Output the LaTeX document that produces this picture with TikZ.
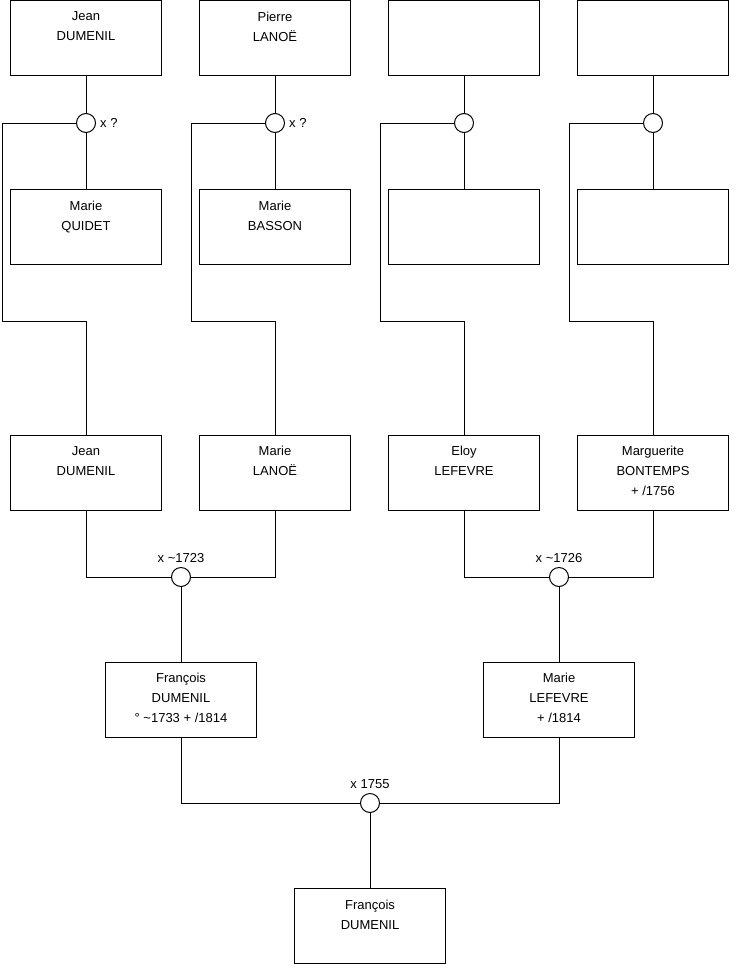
\documentclass[tikz,border=0pt]{standalone}
\usepackage{fontspec}
\setmainfont{Liberation Sans}
\usetikzlibrary{positioning}
\tikzset{
  pbox/.style={draw, line width=1pt, minimum width=151pt, minimum height=75pt, inner sep=0pt},
  who/.style={align=center, font=\fontsize{13}{20}\selectfont, inner sep=0pt},
  ring/.style={draw, line width=1pt, circle, minimum size=19pt, inner sep=0pt, fill=white},
  wed/.style={font=\fontsize{13}{15}\selectfont, inner sep=0pt},
  link/.style={line width=1pt},
}
\begin{document}
\begin{tikzpicture}[x=1pt, y=-1pt]
  \useasboundingbox (0,0) rectangle (740,975);
  % ---- oldest generation: four couples, each child drops to the row below
  \foreach \i/\x in {1/86, 2/275, 3/464, 4/653} {
    \node[pbox] (a\i) at (\x,38) {};
    \node[pbox] (b\i) at (\x,227) {};
    \node[pbox] (p\i) at (\x,472.5) {};
    \node[ring] (m\i) at (\x,123) {};
    \coordinate (k\i) at (\x-84,321);
    \draw[link] (a\i) -- (m\i);
    \draw[link] (m\i) -- (b\i);
    \draw[link] (m\i.west) -| (k\i) -| (p\i.north);
  }
  \node[who, below=11.5pt of a1.north] (na1) {Jean\\DUMENIL};
  \node[who, below=11.5pt of a2.north] (na2) {Pierre\\LANOË};
  \node[who, below=11.5pt of b1.north] (nb1) {Marie\\QUIDET};
  \node[who, below=11.5pt of b2.north] (nb2) {Marie\\BASSON};
  \node[wed, right=4pt of m1] (w1) {x ?};
  \node[wed, right=4pt of m2] (w2) {x ?};
  \node[who, below=11.5pt of p1.north] (np1) {Jean\\DUMENIL};
  \node[who, below=11.5pt of p2.north] (np2) {Marie\\LANOË};
  \node[who, below=11.5pt of p3.north] (np3) {Eloy\\LEFEVRE};
  \node[who, below=11.5pt of p4.north] (np4) {Marguerite\\BONTEMPS\\+ /1756};
  % ---- parents
  \node[ring] (c1) at (181,577) {};
  \node[ring] (c2) at (559,577) {};
  \node[wed, above=4pt of c1] (w3) {x \textasciitilde1723};
  \node[wed, above=4pt of c2] (w4) {x \textasciitilde1726};
  \draw[link] (p1.south) |- (c1.west);
  \draw[link] (p2.south) |- (c1.east);
  \draw[link] (p3.south) |- (c2.west);
  \draw[link] (p4.south) |- (c2.east);
  \node[pbox] (f1) at (181,699.5) {};
  \node[pbox] (f2) at (559,699.5) {};
  \draw[link] (c1) -- (f1);
  \draw[link] (c2) -- (f2);
  \node[who, below=11.5pt of f1.north] (nf1) {François\\DUMENIL\\° \textasciitilde1733 + /1814};
  \node[who, below=11.5pt of f2.north] (nf2) {Marie\\LEFEVRE\\+ /1814};
  % ---- child
  \node[ring] (c3) at (370,803) {};
  \node[wed, above=4pt of c3] (w5) {x 1755};
  \draw[link] (f1.south) |- (c3.west);
  \draw[link] (f2.south) |- (c3.east);
  \node[pbox] (f0) at (370,926) {};
  \draw[link] (c3) -- (f0);
  \node[who, below=11.5pt of f0.north] (nf0) {François\\DUMENIL};
\end{tikzpicture}
\end{document}
